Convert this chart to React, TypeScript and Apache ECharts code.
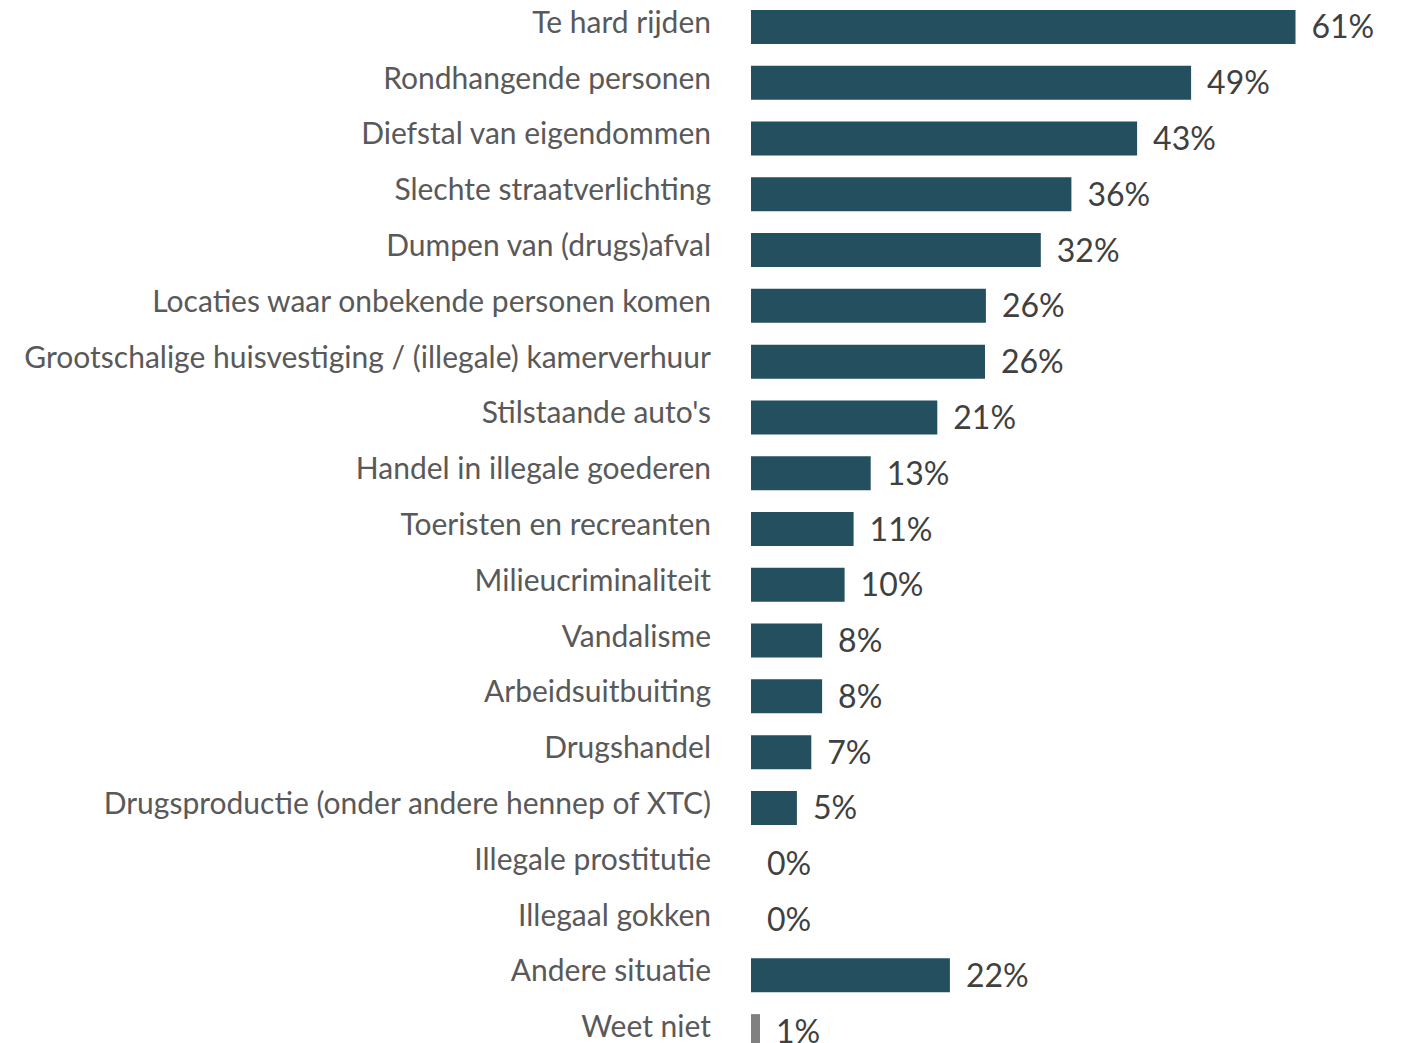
import React, { useEffect, useRef } from "react";
import * as echarts from "echarts";

const categories: string[] = [
  "Te hard rijden",
  "Rondhangende personen",
  "Diefstal van eigendommen",
  "Slechte straatverlichting",
  "Dumpen van (drugs)afval",
  "Locaties waar onbekende personen komen",
  "Grootschalige huisvestiging / (illegale) kamerverhuur",
  "Stilstaande auto's",
  "Handel in illegale goederen",
  "Toeristen en recreanten",
  "Milieucriminaliteit",
  "Vandalisme",
  "Arbeidsuitbuiting",
  "Drugshandel",
  "Drugsproductie (onder andere hennep of XTC)",
  "Illegale prostitutie",
  "Illegaal gokken",
  "Andere situatie",
  "Weet niet",
];

const values: number[] = [
  60.5, 48.9, 42.9, 35.6, 32.2, 26.1, 26.0, 20.7, 13.3, 11.4, 10.4, 7.9, 7.9,
  6.7, 5.1, 0, 0, 22.1, 1.0,
];

const greyCategories: string[] = ["Weet niet"];

const MAIN_COLOR = "#234F5E";
const GREY_COLOR = "#808080";
const FONT = "Lato";

export default function App() {
  const ref = useRef<HTMLDivElement>(null);
  useEffect(() => {
    if (!ref.current) return;
    const chart = echarts.init(ref.current, undefined, { renderer: "svg" });
    chart.setOption({
      animation: false,
      grid: { left: 751, right: 23, top: 0, bottom: 0, containLabel: false },
      xAxis: {
        type: "value",
        min: 0,
        max: 70,
        show: false,
      },
      yAxis: {
        type: "category",
        data: categories,
        inverse: true,
        axisLine: { show: false },
        axisTick: { show: false },
        axisLabel: {
          margin: 40,
          fontFamily: FONT,
          fontSize: 30,
          color: "#595959",
          verticalAlign: "bottom",
          lineHeight: 12,
        },
      },
      series: [
        {
          type: "bar",
          barWidth: 34,
          data: values.map((v, i) => ({
            value: v,
            itemStyle: {
              color: greyCategories.includes(categories[i]) ? GREY_COLOR : MAIN_COLOR,
            },
          })),
          label: {
            show: true,
            position: "right",
            distance: 16,
            fontFamily: FONT,
            fontSize: 32,
            color: "#404040",
            verticalAlign: "bottom",
            lineHeight: 2,
            formatter: (p: any) => Math.round(p.value) + "%",
          },
        },
      ],
    });
    return () => chart.dispose();
  }, []);
  return (
    <div
      ref={ref}
      style={{ position: "absolute", left: 0, top: -1, width: 1404, height: 1060 }}
    />
  );
}
